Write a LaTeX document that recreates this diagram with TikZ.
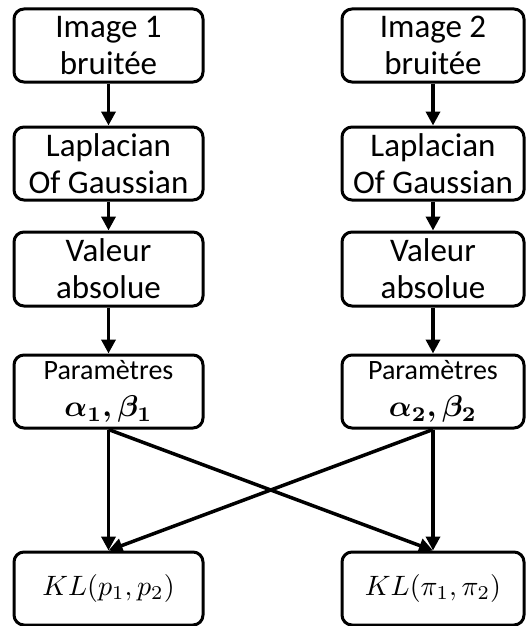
\documentclass[tikz,border=0pt]{standalone}
\usepackage{amsmath}
\usepackage{graphicx}
\usepackage{fontspec}
\setmainfont{Carlito}
\usetikzlibrary{arrows.meta}
\newcommand{\bigmath}[2]{\scalebox{#1}{\fontsize{10}{12}\selectfont$#2$}}
\begin{document}
\begin{tikzpicture}[x=1pt,y=-1pt,
  box/.style={draw, line width=3pt, rounded corners=10pt, minimum height=73pt,
    align=center, inner sep=0pt, font=\fontsize{33}{37}\selectfont},
  lbox/.style={box, minimum width=189pt},
  rbox/.style={box, minimum width=182pt},
  pfont/.style={font=\fontsize{28}{37}\selectfont},
  arr/.style={line width=3.5pt, -{Triangle[width=14pt,length=14pt]}}]
\useasboundingbox (0,0) rectangle (526,626);
% left column
\node[lbox] (l1) at (108.5,45.5) {Image 1\\bruitée};
\node[lbox] (l2) at (108.5,163.5) {Laplacian\\Of Gaussian};
\node[lbox, minimum height=74pt] (l3) at (108.5,269) {Valeur\\absolue};
\node[lbox, pfont] (l4) at (108.5,391.5) {Paramètres\\\bigmath{3}{\boldsymbol{\alpha_1,\beta_1}}};
\node[lbox] (l5) at (108.5,588.5) {\bigmath{2.8}{KL(p_1,p_2)}};
% right column
\node[rbox] (r1) at (433,45.5) {Image 2\\bruitée};
\node[rbox] (r2) at (433,163.5) {Laplacian\\Of Gaussian};
\node[rbox, minimum height=74pt] (r3) at (433,269) {Valeur\\absolue};
\node[rbox, pfont] (r4) at (433,391.5) {Paramètres\\\bigmath{3}{\boldsymbol{\alpha_2,\beta_2}}};
\node[rbox] (r5) at (433,588.5) {\bigmath{2.8}{KL(\pi_1,\pi_2)}};
% arrows
\draw[arr] (l1) -- (l2);
\draw[arr] (l2) -- (l3);
\draw[arr] (l3) -- (l4);
\draw[arr] (l4.south) -- (l5.north);
\draw[arr] (r1) -- (r2);
\draw[arr] (r2) -- (r3);
\draw[arr] (r3) -- (r4);
\draw[arr] (r4.south) -- (r5.north);
\draw[arr] (l4.south) -- (r5.north);
\draw[arr] (r4.south) -- (l5.north);
\end{tikzpicture}
\end{document}
